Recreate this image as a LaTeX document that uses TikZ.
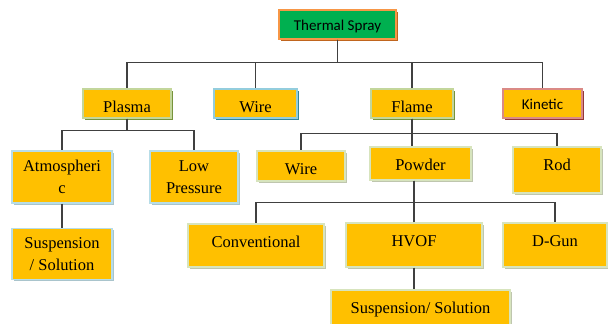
\documentclass[tikz,border=0pt]{standalone}
\usepackage{fontspec}
\setmainfont{Liberation Serif}
\newfontfamily\calibrifont{Carlito}
\usetikzlibrary{positioning, shadows}
\definecolor{Amber}{HTML}{FFC000}
\definecolor{SprayGreen}{HTML}{00B050}
\definecolor{SprayOrange}{HTML}{F79646}
\definecolor{DeepOrange}{HTML}{C0651E}
\definecolor{PaleGreen}{HTML}{C3D69B}
\definecolor{OliveGreen}{HTML}{77933C}
\definecolor{PaleBlue}{HTML}{93CDDD}
\definecolor{TealBlue}{HTML}{31859C}
\definecolor{PaleRed}{HTML}{DA8A86}
\definecolor{DarkRed}{HTML}{953735}
\definecolor{MistBlue}{HTML}{B7DDE8}
\definecolor{MistGrey}{HTML}{A9C4CC}
\definecolor{SageGreen}{HTML}{D7E4BD}
\definecolor{SageGrey}{HTML}{BFC6AE}
\definecolor{LineGrey}{HTML}{404040}

\begin{document}
\begin{tikzpicture}[
    x=1pt, y=-1pt,
    box/.style={draw=#1, line width=1.3pt, fill=Amber, inner xsep=2pt, inner ysep=6pt,
        font=\fontsize{16.5}{22}\selectfont},
    shadowcol/.style={drop shadow={shadow xshift=2pt, shadow yshift=-2pt, fill=#1, opacity=1}},
    greenbox/.style={box=SageGreen, shadowcol=SageGrey},
    bluebox/.style={box=MistBlue, shadowcol=MistGrey, align=center},
    oneline/.style={text height=17pt, text depth=#1},
    sans/.style={font=\calibrifont\fontsize{15}{18}\selectfont, text height=14pt, text depth=3pt},
    link/.style={line width=1.2pt, LineGrey},
]
\useasboundingbox (0,0) rectangle (608,324);

% ============ raiz ============
\node[box=SprayOrange, shadowcol=DeepOrange, fill=SprayGreen, sans, minimum width=117pt]
    (ts) at (337.5,24.5) {Thermal Spray};

% ============ fila 1 ============
\node[box=PaleGreen, shadowcol=OliveGreen, oneline=0pt, minimum width=88pt] (plasma) at (127,103.5) {Plasma};
\node[box=PaleBlue, shadowcol=TealBlue, oneline=0pt, minimum width=83pt] (wire) at (255.5,103.5) {Wire};
\node[box=PaleGreen, shadowcol=OliveGreen, oneline=0pt, minimum width=82pt] (flame) at (412,103.5) {Flame};
\node[box=PaleRed, shadowcol=DarkRed, sans, minimum width=79pt] (kinetic) at (542.5,103.5) {Kinetic};
\foreach \c in {plasma,wire,flame,kinetic} \draw[link] (ts.south) -- ++(0,23) -| (\c.north);

% ============ rama plasma ============
\node[bluebox, minimum width=100pt, minimum height=52pt] (atmos) at (62,177) {Atmospheri\\c};
\node[bluebox, minimum width=88pt, minimum height=52pt] (lowp) at (194,177) {Low\\Pressure};
\node[bluebox, minimum width=100pt, minimum height=51pt, below=24pt of atmos] (susp) {Suspension\\/ Solution};
\foreach \c in {atmos,lowp} \draw[link] (plasma.south) -- ++(0,12) -| (\c.north);
\draw[link] (atmos) -- (susp);

% ============ rama flame ============
\node[greenbox, oneline=1pt, minimum width=88pt] (wiretwo) at (301,166) {Wire};
\node[greenbox, oneline=4pt, minimum width=101pt] (powder) at (420.5,163.5) {Powder};
\node[greenbox, oneline=17pt, minimum width=88pt] (rod) at (557,170) {Rod};
\foreach \c in {wiretwo,rod} \draw[link] (flame.south) -- ++(0,15) -| (\c.north);
\draw[link] (flame.south) -- (flame.south |- powder.north);

% ============ rama powder ============
\node[greenbox, oneline=14pt, minimum width=136pt] (conv) at (256,245.5) {Conventional};
\node[greenbox, oneline=15pt, minimum width=136pt] (hvof) at (414,245) {HVOF};
\node[greenbox, oneline=15pt, minimum width=104pt] (dgun) at (555,245) {D-Gun};
\node[greenbox, oneline=11pt, minimum width=179pt] (susptwo) at (420.5,310) {Suspension/ Solution};
\foreach \c in {conv,dgun} \draw[link] (hvof.north |- powder.south) -- ++(0,22) -| (\c.north);
\draw[link] (hvof.north) -- (hvof.north |- powder.south);
\draw[link] (hvof.south) -- (hvof.south |- susptwo.north);

\end{tikzpicture}
\end{document}
